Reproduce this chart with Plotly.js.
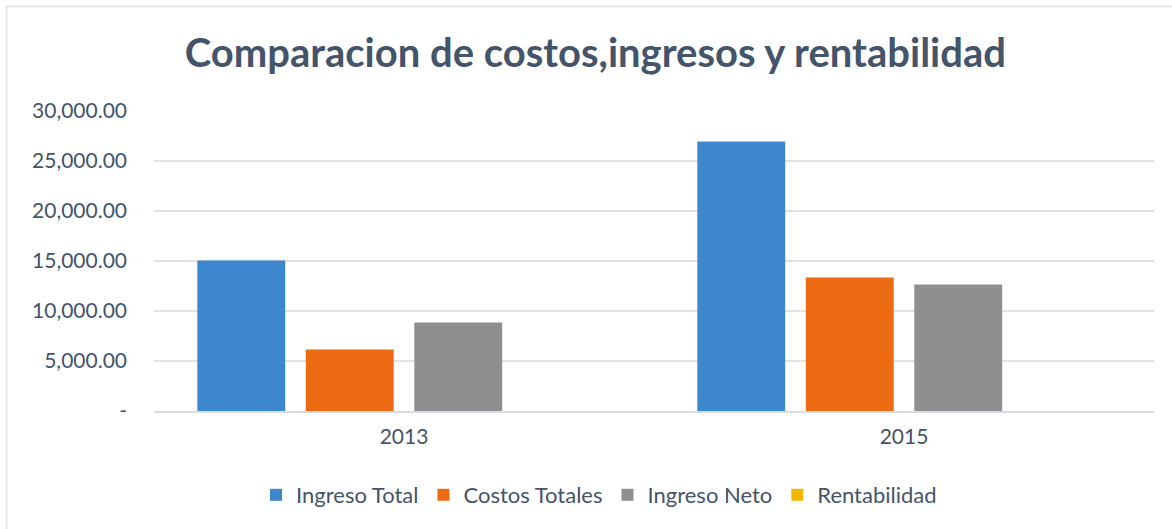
<!DOCTYPE html>
<html>
<head>
<meta charset="utf-8">
<script src="https://cdn.plot.ly/plotly-3.0.1.min.js"></script>
<style>
html,body{margin:0;padding:0;background:#fff;}
#chart{width:1172px;height:529px;}
</style>
</head>
<body>
<div id="chart"></div>
<script>
const years = ["2013", "2015"];
const ingresoTotal = [15050, 26950];
const costosTotales = [6150, 13350];
const ingresoNeto = [8850, 12650];
const rentabilidad = [1.44, 0.95];
const tickVals = [0, 5000, 10000, 15000, 20000, 25000, 30000];
const tickText = ["-", "5,000.00", "10,000.00", "15,000.00", "20,000.00", "25,000.00", "30,000.00"];

const textColor = "#44546a";
const fontFam = "Lato, 'Open Sans', sans-serif";

function series(name, vals, color) {
  return {
    type: "bar", name: name, x: years, y: vals,
    marker: {color: color, line: {width: 0}},
    hoverinfo: "x+y+name"
  };
}

const data = [
  series("Ingreso Total", ingresoTotal, "#3d87cf"),
  series("Costos Totales", costosTotales, "#ec6a12"),
  series("Ingreso Neto", ingresoNeto, "#8f8f8f"),
  series("Rentabilidad", rentabilidad, "#f0b800")
];

const layout = {
  width: 1172, height: 529,
  paper_bgcolor: "#fff", plot_bgcolor: "#fff",
  margin: {l: 154, r: 18, t: 111, b: 118},
  title: {
    text: "<b>Comparacion de costos,ingresos y rentabilidad</b>",
    font: {family: fontFam, size: 40, color: textColor},
    x: 0.508, xanchor: "center", y: 0.9, yanchor: "middle"
  },
  barmode: "group",
  bargap: 0.132,
  bargroupgap: 0.19,
  xaxis: {
    type: "category",
    tickfont: {family: fontFam, size: 21, color: textColor},
    showline: true, linecolor: "#d9dde3", linewidth: 2,
    ticks: "", showgrid: false,
    ticklabelstandoff: 6
  },
  yaxis: {
    range: [0, 30000],
    tickvals: tickVals, ticktext: tickText,
    tickfont: {family: fontFam, size: 21, color: textColor},
    showgrid: true, gridcolor: "#dfe3e8", gridwidth: 2,
    zeroline: false, showline: false, ticks: "",
    ticklabelstandoff: 26
  },
  legend: {
    orientation: "h", x: 0.445, xanchor: "center", y: -0.28, yanchor: "middle",
    font: {family: fontFam, size: 22, color: textColor},
    itemwidth: 30, traceorder: "normal"
  },
  shapes: [
    {type: "line", xref: "paper", yref: "paper",
     x0: -0.1475, x1: -0.1475, y0: -0.5, y1: 1.3483,
     line: {color: "#e1e5ea", width: 2}},
    {type: "line", xref: "paper", yref: "paper",
     x0: -0.1475, x1: 1.1, y0: 1.3483, y1: 1.3483,
     line: {color: "#e1e5ea", width: 2}}
  ],
  showlegend: true
};

Plotly.newPlot("chart", data, layout, {displayModeBar: false, staticPlot: true});
</script>
</body>
</html>
